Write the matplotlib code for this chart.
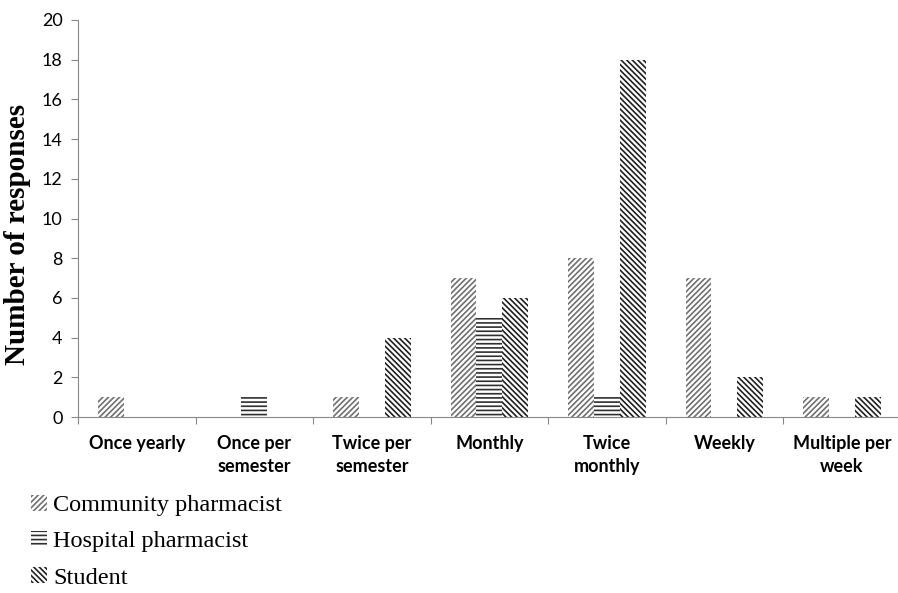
import matplotlib.pyplot as plt
import matplotlib.patches as mpatches
import numpy as np

plt.rcParams['hatch.linewidth'] = 1.2

categories = ['Once yearly', 'Once per\nsemester', 'Twice per\nsemester', 'Monthly',
              'Twice\nmonthly', 'Weekly', 'Multiple per\nweek']
community = [1, 0, 1, 7, 8, 7, 1]
hospital = [0, 1, 0, 5, 1, 0, 0]
student = [0, 0, 4, 6, 18, 2, 1]
series_names = ['Community pharmacist', 'Hospital pharmacist', 'Student']

hatches = ['//////', '----', '\\\\\\\\\\\\']
hatch_colors = ['#707070', '#303030', '#202020']

fig = plt.figure(figsize=(8.98, 5.93), dpi=100)
ax = fig.add_axes([78 / 898, 1 - 417 / 593, 1 - 78 / 898 + 0.003, (417 - 20) / 593])

x = np.arange(len(categories))
width = 0.22
for i, vals in enumerate([community, hospital, student]):
    ax.bar(x + (i - 1) * width, vals, width, color='white', edgecolor=hatch_colors[i],
           hatch=hatches[i], linewidth=0)

ax.set_xlim(-0.5, len(categories) - 0.5)
ax.set_ylim(0, 20)
ax.set_yticks(range(0, 21, 2))
ax.set_xticks(np.arange(len(categories) + 1) - 0.5)
ax.set_xticklabels([])
ax.set_xticks(x, minor=True)
ax.set_xticklabels(categories, minor=True, fontfamily='Lato', fontweight='bold',
                   fontsize=13, linespacing=1.45, va='top')
ax.tick_params(axis='x', which='minor', length=0, pad=13)
ax.tick_params(axis='x', which='major', length=5, color='#888888')
ax.tick_params(axis='y', length=5, color='#888888', labelsize=13, pad=6)
for lab in ax.get_yticklabels():
    lab.set_fontfamily('Lato')

for s in ['top', 'right']:
    ax.spines[s].set_visible(False)
for s in ['left', 'bottom']:
    ax.spines[s].set_color('#888888')

# y title sits a little below the axis middle
fig.text(18 / 898, 1 - 234 / 593, 'Number of responses', rotation=90, ha='center',
         va='center', fontfamily='Liberation Serif', fontweight='bold', fontsize=21)

handles = [mpatches.Patch(facecolor='white', edgecolor=hatch_colors[i], hatch=hatches[i],
                          linewidth=0) for i in range(3)]
fig.legend(handles, series_names, loc='upper left', bbox_to_anchor=(0.035, 0.166),
           frameon=False, prop={'family': 'Liberation Serif', 'size': 17.5},
           handlelength=0.65, handleheight=0.65, handletextpad=0.25, labelspacing=0.6,
           borderaxespad=0, borderpad=0)

fig.savefig('out.png', dpi=100)
